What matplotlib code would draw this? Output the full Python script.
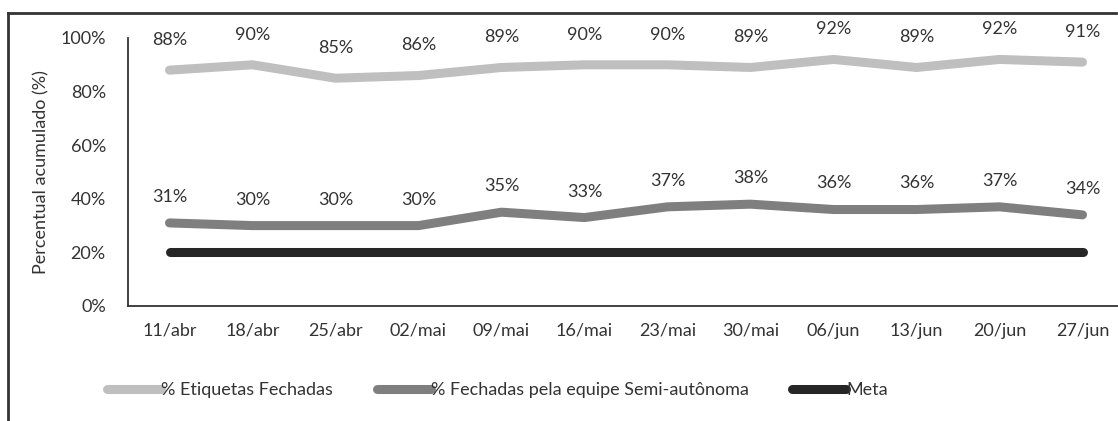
import matplotlib.pyplot as plt
from matplotlib.lines import Line2D

plt.rcParams['font.family'] = ['Lato', 'DejaVu Sans']

weeks = ['11/abr', '18/abr', '25/abr', '02/mai', '09/mai', '16/mai',
         '23/mai', '30/mai', '06/jun', '13/jun', '20/jun', '27/jun']
etiquetas = [88, 90, 85, 86, 89, 90, 90, 89, 92, 89, 92, 91]
semi_auto = [31, 30, 30, 30, 35, 33, 37, 38, 36, 36, 37, 34]
meta = [20] * len(weeks)

fs = 13

fig = plt.figure(figsize=(11.18, 4.21), dpi=100)
ax = fig.add_axes([128 / 1118, 115 / 421, 996 / 1118, 268 / 421])

x = range(len(weeks))
ax.plot(x, etiquetas, color='#bfbfbf', lw=6.5, solid_capstyle='round',
        label='% Etiquetas Fechadas')
ax.plot(x, semi_auto, color='#7f7f7f', lw=6.5, solid_capstyle='round',
        label='% Fechadas pela equipe Semi-autônoma')
ax.plot(x, meta, color='#262626', lw=6.5, solid_capstyle='round', label='Meta')

# data labels
for xi, v in zip(x, etiquetas):
    ax.annotate(f'{v}%', (xi, v), xytext=(0, 16), textcoords='offset points',
                ha='center', va='bottom', fontsize=fs, color='#333333')
for xi, v in zip(x, semi_auto):
    ax.annotate(f'{v}%', (xi, v), xytext=(0, 13), textcoords='offset points',
                ha='center', va='bottom', fontsize=fs, color='#333333')

ax.set_xlim(-0.5, len(weeks) - 0.5)
ax.set_ylim(0, 100)
ax.set_yticks(range(0, 101, 20))
ax.set_yticklabels([f'{t}%' for t in range(0, 101, 20)])
ax.set_xticks(list(x))
ax.set_xticklabels(weeks)
ax.tick_params(axis='both', length=0, labelsize=fs, colors='#333333')
ax.tick_params(axis='y', pad=16)
ax.tick_params(axis='x', pad=12)
ax.set_ylabel('Percentual acumulado (%)', fontsize=fs, color='#333333',
              labelpad=8)

for s in ['top', 'right']:
    ax.spines[s].set_visible(False)
for s in ['left', 'bottom']:
    ax.spines[s].set_color('#333333')
    ax.spines[s].set_linewidth(1.3)

fig.legend(loc='center', bbox_to_anchor=(0.445, 0.073), ncol=3, frameon=False,
           fontsize=fs, handlelength=3.0, handletextpad=0.0,
           columnspacing=2.4, labelcolor='#333333')

# outer chart frame (cropped at right and bottom), left and top edges only
fx = 8 / 1118
fy = 1 - 13 / 421
fig.add_artist(Line2D([fx, fx], [0.002, fy], transform=fig.transFigure,
                      color='#333333', lw=2, zorder=10))
fig.add_artist(Line2D([fx, 0.998], [fy, fy], transform=fig.transFigure,
                      color='#333333', lw=2, zorder=10))

fig.savefig('out.png', dpi=100)
